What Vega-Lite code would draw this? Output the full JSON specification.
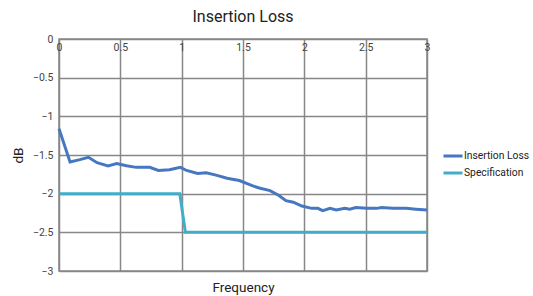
{
  "$schema": "https://vega.github.io/schema/vega-lite/v6.json",
  "width": 368,
  "height": 232,
  "autosize": "none",
  "padding": {"left": 59, "top": 39, "right": 106, "bottom": 25},
  "background": "white",
  "config": {
    "font": "Roboto",
    "view": {"stroke": "#878787", "strokeWidth": 1.5},
    "axis": {"domain": false, "ticks": false, "gridColor": "#878787", "gridWidth": 1.5, "gridOpacity": 1, "labelFont": "Roboto", "labelFontSize": 10.5, "labelColor": "#444444", "titleFont": "Roboto", "titleFontWeight": "normal", "titleFontSize": 13.5, "titleColor": "#222222"},
    "legend": {"labelFont": "Roboto", "labelFontSize": 10.3, "labelColor": "#222222"}
  },
  "title": {"text": "Insertion Loss", "font": "Roboto", "fontSize": 16, "fontWeight": "normal", "color": "#222222", "anchor": "middle", "offset": 9},
  "data": {
    "values": [
      {"f": 0.0, "v": -1.16, "s": "Insertion Loss"},
      {"f": 0.09, "v": -1.59, "s": "Insertion Loss"},
      {"f": 0.17, "v": -1.56, "s": "Insertion Loss"},
      {"f": 0.24, "v": -1.53, "s": "Insertion Loss"},
      {"f": 0.31, "v": -1.60, "s": "Insertion Loss"},
      {"f": 0.40, "v": -1.64, "s": "Insertion Loss"},
      {"f": 0.47, "v": -1.61, "s": "Insertion Loss"},
      {"f": 0.55, "v": -1.64, "s": "Insertion Loss"},
      {"f": 0.63, "v": -1.66, "s": "Insertion Loss"},
      {"f": 0.74, "v": -1.66, "s": "Insertion Loss"},
      {"f": 0.81, "v": -1.70, "s": "Insertion Loss"},
      {"f": 0.90, "v": -1.69, "s": "Insertion Loss"},
      {"f": 0.99, "v": -1.66, "s": "Insertion Loss"},
      {"f": 1.04, "v": -1.70, "s": "Insertion Loss"},
      {"f": 1.13, "v": -1.74, "s": "Insertion Loss"},
      {"f": 1.20, "v": -1.73, "s": "Insertion Loss"},
      {"f": 1.28, "v": -1.76, "s": "Insertion Loss"},
      {"f": 1.37, "v": -1.80, "s": "Insertion Loss"},
      {"f": 1.47, "v": -1.83, "s": "Insertion Loss"},
      {"f": 1.58, "v": -1.90, "s": "Insertion Loss"},
      {"f": 1.64, "v": -1.93, "s": "Insertion Loss"},
      {"f": 1.72, "v": -1.96, "s": "Insertion Loss"},
      {"f": 1.79, "v": -2.02, "s": "Insertion Loss"},
      {"f": 1.85, "v": -2.09, "s": "Insertion Loss"},
      {"f": 1.91, "v": -2.11, "s": "Insertion Loss"},
      {"f": 1.98, "v": -2.16, "s": "Insertion Loss"},
      {"f": 2.06, "v": -2.19, "s": "Insertion Loss"},
      {"f": 2.11, "v": -2.19, "s": "Insertion Loss"},
      {"f": 2.15, "v": -2.22, "s": "Insertion Loss"},
      {"f": 2.21, "v": -2.19, "s": "Insertion Loss"},
      {"f": 2.26, "v": -2.21, "s": "Insertion Loss"},
      {"f": 2.33, "v": -2.19, "s": "Insertion Loss"},
      {"f": 2.37, "v": -2.20, "s": "Insertion Loss"},
      {"f": 2.42, "v": -2.18, "s": "Insertion Loss"},
      {"f": 2.51, "v": -2.19, "s": "Insertion Loss"},
      {"f": 2.59, "v": -2.19, "s": "Insertion Loss"},
      {"f": 2.63, "v": -2.18, "s": "Insertion Loss"},
      {"f": 2.72, "v": -2.19, "s": "Insertion Loss"},
      {"f": 2.83, "v": -2.19, "s": "Insertion Loss"},
      {"f": 2.91, "v": -2.20, "s": "Insertion Loss"},
      {"f": 3.0, "v": -2.21, "s": "Insertion Loss"},
      {"f": 0.0, "v": -2.0, "s": "Specification"},
      {"f": 0.985, "v": -2.0, "s": "Specification"},
      {"f": 1.03, "v": -2.5, "s": "Specification"},
      {"f": 3.0, "v": -2.5, "s": "Specification"}
    ]
  },
  "mark": {"type": "line", "strokeWidth": 3, "clip": false},
  "encoding": {
    "x": {"field": "f", "type": "quantitative", "scale": {"domain": [0, 3], "nice": false, "zero": false},
      "axis": {"orient": "top", "values": [0, 0.5, 1, 1.5, 2, 2.5, 3], "format": "~g", "labelPadding": -8, "labelBaseline": "middle", "labelFlush": false, "labelOverlap": false, "title": "Frequency", "titleY": 248, "titleBaseline": "middle"}},
    "y": {"field": "v", "type": "quantitative", "scale": {"domain": [-3, 0], "nice": false},
      "axis": {"values": [0, -0.5, -1, -1.5, -2, -2.5, -3], "format": "~g", "labelPadding": 6, "title": "dB", "titleX": -41, "titleY": 116, "titleBaseline": "middle", "titleAngle": -90, "titleAlign": "center"}},
    "color": {"field": "s", "type": "nominal", "scale": {"domain": ["Insertion Loss", "Specification"], "range": ["#4677C0", "#42ADC8"]},
      "legend": {"title": null, "orient": "none", "legendX": 383, "legendY": 106, "symbolType": "stroke", "symbolSize": 361, "symbolStrokeWidth": 3, "labelOffset": 0, "rowPadding": -3, "padding": 0, "labelLimit": 80}}
  }
}
